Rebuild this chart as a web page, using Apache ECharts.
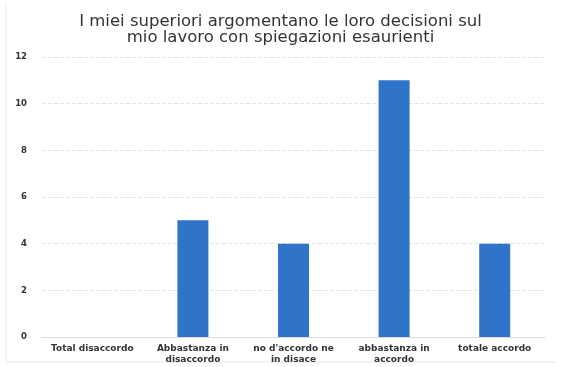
<!DOCTYPE html>
<html><head><meta charset="utf-8">
<script src="https://cdn.jsdelivr.net/npm/echarts@6/dist/echarts.min.js"></script>
<style>html,body{margin:0;padding:0;background:#fff}#c{width:561px;height:367px}</style>
</head><body><div id="c"></div>
<script>
const titleText = "I miei superiori argomentano le loro decisioni sul\nmio lavoro con spiegazioni esaurienti";
const categories = ["Total disaccordo", "Abbastanza in\ndisaccordo", "no d'accordo ne\nin disace", "abbastanza in\naccordo", "totale accordo"];
const values = [0, 5, 4, 11, 4];
const yTicks = [0, 2, 4, 6, 8, 10, 12];

const chart = echarts.init(document.getElementById('c'), null, {renderer: 'canvas'});
chart.setOption({
  backgroundColor: '#fff',
  animation: false,
  title: {
    text: titleText, left: 'center', top: 9,
    textStyle: {fontFamily: 'DejaVu Sans', fontSize: 16.5, fontWeight: 'normal', color: '#333', lineHeight: 16}
  },
  grid: {left: 42, right: 16, top: 57, bottom: 30},
  xAxis: {
    type: 'category', data: categories,
    axisLine: {show: true, lineStyle: {color: '#dcdcdc'}},
    axisTick: {show: false},
    axisLabel: {interval: 0, fontFamily: 'DejaVu Sans', fontSize: 9, fontWeight: 'bold', color: '#333', lineHeight: 11, margin: 6}
  },
  yAxis: {
    type: 'value', min: yTicks[0], max: yTicks[yTicks.length-1], interval: 2,
    axisLine: {show: false}, axisTick: {show: false},
    splitLine: {lineStyle: {color: '#e3e3e3', type: 'dashed'}},
    axisLabel: {fontFamily: 'DejaVu Sans', fontSize: 8.5, fontWeight: 'bold', color: '#333', margin: 15}
  },
  series: [{
    type: 'bar', data: values, barWidth: 31,
    itemStyle: {color: '#2f74c8'}
  }],
  graphic: [
    {type: 'line', shape: {x1: 6, y1: 4, x2: 6, y2: 362}, style: {stroke: '#e6e6e6', lineWidth: 1}},
    {type: 'line', shape: {x1: 6, y1: 362, x2: 556, y2: 362}, style: {stroke: '#e6e6e6', lineWidth: 1}}
  ]
});
</script></body></html>
